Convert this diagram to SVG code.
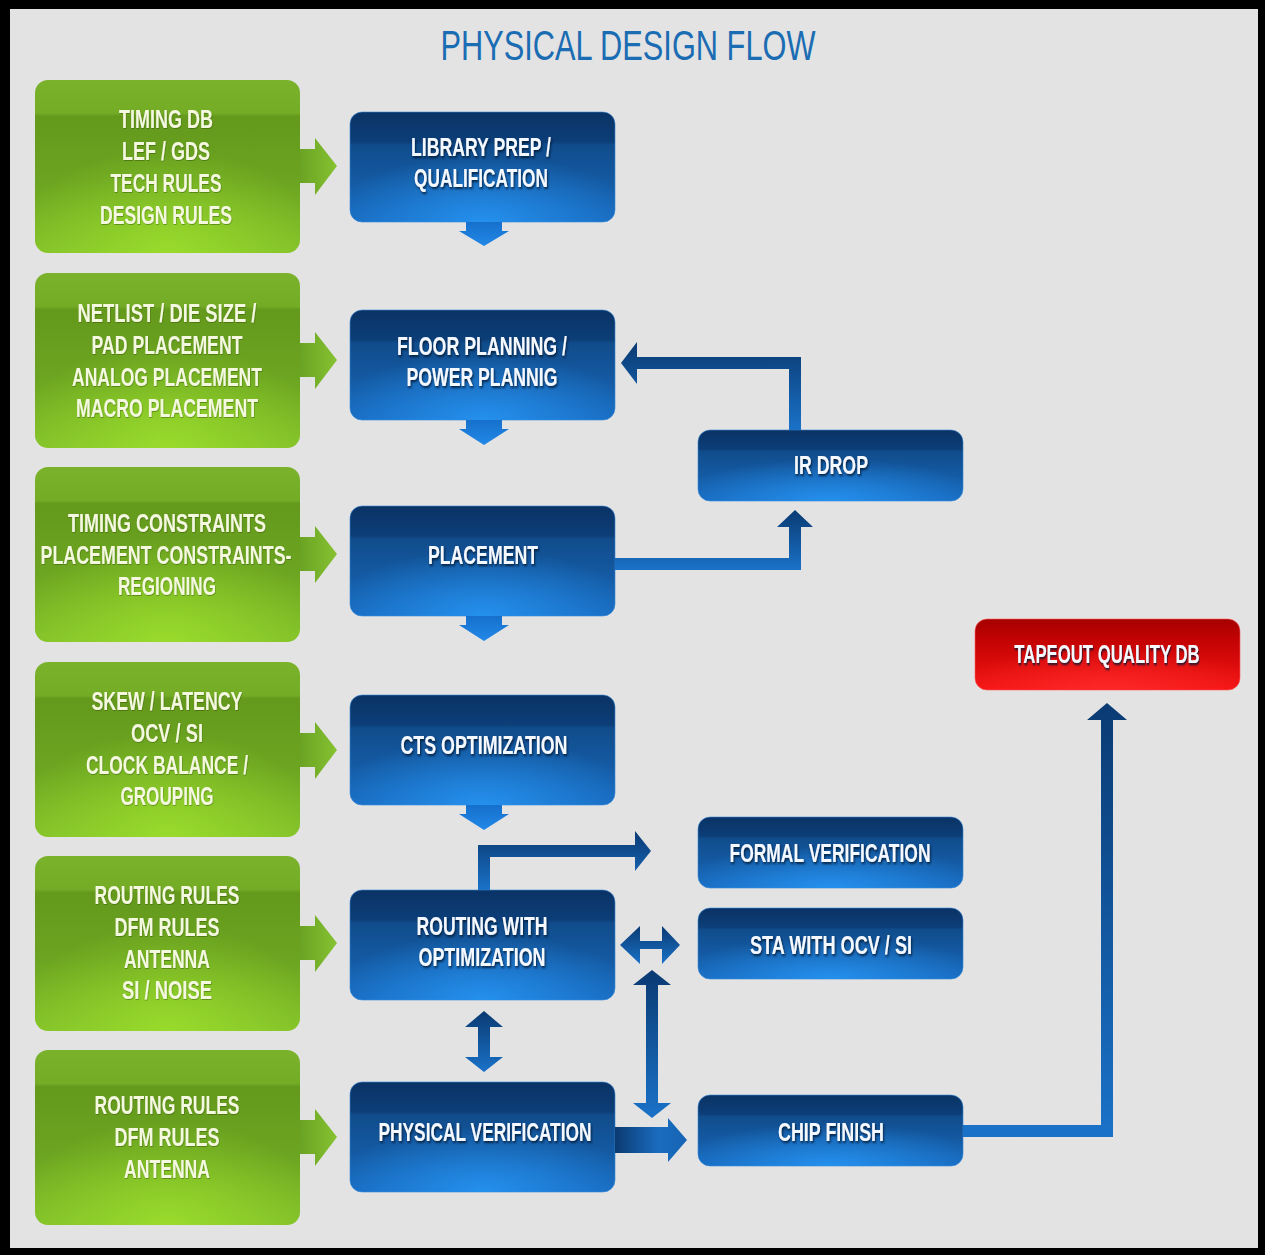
<svg xmlns="http://www.w3.org/2000/svg" width="1265" height="1255" viewBox="0 0 1265 1255">
<defs>
<linearGradient id="gGreen" x1="0" y1="0" x2="0" y2="1">
<stop offset="0" stop-color="#7ab22b"/>
<stop offset="0.19" stop-color="#74ac26"/>
<stop offset="0.21" stop-color="#64991c"/>
<stop offset="0.6" stop-color="#6ca521"/>
<stop offset="1" stop-color="#82c02a"/>
</linearGradient>
<radialGradient id="gGreenGlow" cx="0.5" cy="1" r="0.6" fx="0.5" fy="1">
<stop offset="0" stop-color="#9fe22c" stop-opacity="0.8"/>
<stop offset="1" stop-color="#9fe22c" stop-opacity="0"/>
</radialGradient>
<linearGradient id="gGArrow" x1="0" y1="0" x2="1" y2="0">
<stop offset="0" stop-color="#6aa324"/>
<stop offset="1" stop-color="#86c232"/>
</linearGradient>
<linearGradient id="gBlue" x1="0" y1="0" x2="0" y2="1">
<stop offset="0" stop-color="#0a3365"/>
<stop offset="0.27" stop-color="#0c3e78"/>
<stop offset="0.3" stop-color="#104c8b"/>
<stop offset="1" stop-color="#1869bd"/>
</linearGradient>
<radialGradient id="gBlueGlow" cx="0.5" cy="1" r="0.6" fx="0.5" fy="1">
<stop offset="0" stop-color="#2592f0" stop-opacity="0.95"/>
<stop offset="1" stop-color="#2592f0" stop-opacity="0"/>
</radialGradient>
<linearGradient id="gRed" x1="0" y1="0" x2="0" y2="1">
<stop offset="0" stop-color="#a50000"/>
<stop offset="0.3" stop-color="#c40303"/>
<stop offset="1" stop-color="#f41414"/>
</linearGradient>
<radialGradient id="gRedGlow" cx="0.5" cy="1" r="0.6" fx="0.5" fy="1">
<stop offset="0" stop-color="#ff2a2a" stop-opacity="0.9"/>
<stop offset="1" stop-color="#ff2a2a" stop-opacity="0"/>
</radialGradient>
<linearGradient id="gConn" x1="0" y1="0" x2="0" y2="1">
<stop offset="0" stop-color="#0a3a72"/>
<stop offset="1" stop-color="#1a72c8"/>
</linearGradient>
<linearGradient id="gConnH" x1="0" y1="0" x2="1" y2="0">
<stop offset="0" stop-color="#0b3a70"/>
<stop offset="0.6" stop-color="#1a6cc0"/>
<stop offset="1" stop-color="#1664b4"/>
</linearGradient>
<linearGradient id="gDown" x1="0" y1="0" x2="0" y2="1">
<stop offset="0" stop-color="#1670cc"/>
<stop offset="1" stop-color="#2288e8"/>
</linearGradient>
<filter id="tsh" x="-20%" y="-60%" width="140%" height="220%">
<feDropShadow dx="1" dy="2" stdDeviation="0.8" flood-color="#001530" flood-opacity="0.85"/>
</filter>
<filter id="tshG" x="-20%" y="-60%" width="140%" height="220%">
<feDropShadow dx="0.5" dy="1" stdDeviation="0.6" flood-color="#2d4a08" flood-opacity="0.45"/>
</filter>
</defs>
<style>
.title{font-family:"Liberation Sans",Arial,sans-serif;font-size:42px;fill:#1a6cb3;text-anchor:middle}
.t{font-family:"Liberation Sans",Arial,sans-serif;font-size:25px;font-weight:bold;text-anchor:middle}
.tg{fill:#f3f8df;filter:url(#tshG)}
.tb{fill:#f4f8ff;filter:url(#tsh)}
.green{fill:url(#gGreen)}
.gglow{fill:url(#gGreenGlow)}
.blue{fill:url(#gBlue);stroke:#3a8ad6;stroke-width:1;stroke-opacity:0.6}
.bglow{fill:url(#gBlueGlow)}
.garrow{fill:url(#gGArrow)}
.conn{fill:url(#gConn)}
.down{fill:url(#gDown)}
</style>
<rect x="0" y="0" width="1265" height="1255" fill="#000"/>
<rect x="10" y="9" width="1248" height="1239" fill="#e3e3e3"/>
<text class="title" x="628" y="60" textLength="375" lengthAdjust="spacingAndGlyphs">PHYSICAL DESIGN FLOW</text>

<g id="input1">
<rect class="green" x="35" y="80" width="265" height="173" rx="13"/>
<rect class="gglow" x="35" y="80" width="265" height="173" rx="13"/>
<text class="t tg" x="166" y="128" textLength="94" lengthAdjust="spacingAndGlyphs">TIMING DB</text>
<text class="t tg" x="166" y="160" textLength="88" lengthAdjust="spacingAndGlyphs">LEF / GDS</text>
<text class="t tg" x="166" y="192" textLength="111" lengthAdjust="spacingAndGlyphs">TECH RULES</text>
<text class="t tg" x="166" y="224" textLength="132" lengthAdjust="spacingAndGlyphs">DESIGN RULES</text>
</g>
<g id="input2">
<rect class="green" x="35" y="273" width="265" height="175" rx="13"/>
<rect class="gglow" x="35" y="273" width="265" height="175" rx="13"/>
<text class="t tg" x="167" y="322" textLength="179" lengthAdjust="spacingAndGlyphs">NETLIST / DIE SIZE /</text>
<text class="t tg" x="167" y="354" textLength="151" lengthAdjust="spacingAndGlyphs">PAD PLACEMENT</text>
<text class="t tg" x="167" y="386" textLength="190" lengthAdjust="spacingAndGlyphs">ANALOG PLACEMENT</text>
<text class="t tg" x="167" y="417" textLength="182" lengthAdjust="spacingAndGlyphs">MACRO PLACEMENT</text>
</g>
<g id="input3">
<rect class="green" x="35" y="467" width="265" height="175" rx="13"/>
<rect class="gglow" x="35" y="467" width="265" height="175" rx="13"/>
<text class="t tg" x="167" y="532" textLength="198" lengthAdjust="spacingAndGlyphs">TIMING CONSTRAINTS</text>
<text class="t tg" x="166" y="564" textLength="251" lengthAdjust="spacingAndGlyphs">PLACEMENT CONSTRAINTS-</text>
<text class="t tg" x="167" y="595" textLength="98" lengthAdjust="spacingAndGlyphs">REGIONING</text>
</g>
<g id="input4">
<rect class="green" x="35" y="662" width="265" height="175" rx="13"/>
<rect class="gglow" x="35" y="662" width="265" height="175" rx="13"/>
<text class="t tg" x="167" y="710" textLength="151" lengthAdjust="spacingAndGlyphs">SKEW / LATENCY</text>
<text class="t tg" x="167" y="742" textLength="72" lengthAdjust="spacingAndGlyphs">OCV / SI</text>
<text class="t tg" x="167" y="774" textLength="162" lengthAdjust="spacingAndGlyphs">CLOCK BALANCE /</text>
<text class="t tg" x="167" y="805" textLength="93" lengthAdjust="spacingAndGlyphs">GROUPING</text>
</g>
<g id="input5">
<rect class="green" x="35" y="856" width="265" height="175" rx="13"/>
<rect class="gglow" x="35" y="856" width="265" height="175" rx="13"/>
<text class="t tg" x="167" y="904" textLength="145" lengthAdjust="spacingAndGlyphs">ROUTING RULES</text>
<text class="t tg" x="167" y="936" textLength="105" lengthAdjust="spacingAndGlyphs">DFM RULES</text>
<text class="t tg" x="167" y="968" textLength="86" lengthAdjust="spacingAndGlyphs">ANTENNA</text>
<text class="t tg" x="167" y="999" textLength="90" lengthAdjust="spacingAndGlyphs">SI / NOISE</text>
</g>
<g id="input6">
<rect class="green" x="35" y="1050" width="265" height="175" rx="13"/>
<rect class="gglow" x="35" y="1050" width="265" height="175" rx="13"/>
<text class="t tg" x="167" y="1114" textLength="145" lengthAdjust="spacingAndGlyphs">ROUTING RULES</text>
<text class="t tg" x="167" y="1146" textLength="105" lengthAdjust="spacingAndGlyphs">DFM RULES</text>
<text class="t tg" x="167" y="1178" textLength="86" lengthAdjust="spacingAndGlyphs">ANTENNA</text>
</g>

<g id="library-prep">
<rect class="blue" x="350" y="112" width="265" height="110" rx="12"/>
<rect class="bglow" x="350" y="112" width="265" height="110" rx="12"/>
<text class="t tb" x="481" y="156" textLength="140" lengthAdjust="spacingAndGlyphs">LIBRARY PREP /</text>
<text class="t tb" x="481" y="187" textLength="134" lengthAdjust="spacingAndGlyphs">QUALIFICATION</text>
</g>
<g id="floor-planning">
<rect class="blue" x="350" y="310" width="265" height="110" rx="12"/>
<rect class="bglow" x="350" y="310" width="265" height="110" rx="12"/>
<text class="t tb" x="482" y="355" textLength="170" lengthAdjust="spacingAndGlyphs">FLOOR PLANNING /</text>
<text class="t tb" x="482" y="386" textLength="151" lengthAdjust="spacingAndGlyphs">POWER PLANNIG</text>
</g>
<g id="placement">
<rect class="blue" x="350" y="506" width="265" height="110" rx="12"/>
<rect class="bglow" x="350" y="506" width="265" height="110" rx="12"/>
<text class="t tb" x="483" y="564" textLength="110" lengthAdjust="spacingAndGlyphs">PLACEMENT</text>
</g>
<g id="cts">
<rect class="blue" x="350" y="695" width="265" height="110" rx="12"/>
<rect class="bglow" x="350" y="695" width="265" height="110" rx="12"/>
<text class="t tb" x="484" y="754" textLength="167" lengthAdjust="spacingAndGlyphs">CTS OPTIMIZATION</text>
</g>
<g id="routing">
<rect class="blue" x="350" y="890" width="265" height="110" rx="12"/>
<rect class="bglow" x="350" y="890" width="265" height="110" rx="12"/>
<text class="t tb" x="482" y="935" textLength="131" lengthAdjust="spacingAndGlyphs">ROUTING WITH</text>
<text class="t tb" x="482" y="966" textLength="127" lengthAdjust="spacingAndGlyphs">OPTIMIZATION</text>
</g>
<g id="physical-verification">
<rect class="blue" x="350" y="1082" width="265" height="110" rx="12"/>
<rect class="bglow" x="350" y="1082" width="265" height="110" rx="12"/>
<text class="t tb" x="485" y="1141" textLength="213" lengthAdjust="spacingAndGlyphs">PHYSICAL VERIFICATION</text>
</g>
<g id="ir-drop">
<rect class="blue" x="698" y="430" width="265" height="71" rx="12"/>
<rect class="bglow" x="698" y="430" width="265" height="71" rx="12"/>
<text class="t tb" x="831" y="474" textLength="74" lengthAdjust="spacingAndGlyphs">IR DROP</text>
</g>
<g id="formal-verification">
<rect class="blue" x="698" y="817" width="265" height="71" rx="12"/>
<rect class="bglow" x="698" y="817" width="265" height="71" rx="12"/>
<text class="t tb" x="830" y="862" textLength="201" lengthAdjust="spacingAndGlyphs">FORMAL VERIFICATION</text>
</g>
<g id="sta">
<rect class="blue" x="698" y="908" width="265" height="71" rx="12"/>
<rect class="bglow" x="698" y="908" width="265" height="71" rx="12"/>
<text class="t tb" x="831" y="954" textLength="162" lengthAdjust="spacingAndGlyphs">STA WITH OCV / SI</text>
</g>
<g id="chip-finish">
<rect class="blue" x="698" y="1095" width="265" height="71" rx="12"/>
<rect class="bglow" x="698" y="1095" width="265" height="71" rx="12"/>
<text class="t tb" x="831" y="1141" textLength="106" lengthAdjust="spacingAndGlyphs">CHIP FINISH</text>
</g>
<g id="tapeout">
<rect x="975" y="619" width="265" height="71" rx="12" fill="url(#gRed)" stroke="#ff6060" stroke-width="1" stroke-opacity="0.6"/>
<rect x="975" y="619" width="265" height="71" rx="12" fill="url(#gRedGlow)"/>
<text class="t tb" transform="translate(1107,663) scale(0.67,1)" x="0" y="0">TAPEOUT QUALITY DB</text>
</g>

<g id="connectors">
<path class="garrow" d="M300,149 H315 V138 L337,166 L315,195 V183 H300 Z"/>
<path class="garrow" d="M300,343 H315 V332 L337,360 L315,389 V377 H300 Z"/>
<path class="garrow" d="M300,537 H315 V526 L337,554 L315,583 V571 H300 Z"/>
<path class="garrow" d="M300,733 H315 V722 L337,750 L315,779 V767 H300 Z"/>
<path class="garrow" d="M300,926 H315 V915 L337,943 L315,972 V960 H300 Z"/>
<path class="garrow" d="M300,1120 H315 V1109 L337,1137 L315,1166 V1154 H300 Z"/>

<path class="down" d="M466,222 H502 V231 H509 L484,246 L459,231 H466 Z"/>
<path class="down" d="M466,420 H502 V429 H509 L484,445 L459,429 H466 Z"/>
<path class="down" d="M466,616 H502 V625 H509 L484,641 L459,625 H466 Z"/>
<path class="down" d="M466,805 H502 V814 H509 L484,830 L459,814 H466 Z"/>

<path class="conn" d="M789,430 V369 H637 V384 L621,363 L637,342 V357 H801 V430 Z"/>
<path class="conn" d="M615,558 H789 V527 H777 L795,510 L813,527 H801 V570 H615 Z"/>
<path class="conn" d="M478,890 V845 H635 V831 L651,851 L635,871 V857 H490 V890 Z"/>
<path class="conn" d="M620,945 L640,926 V941 H662 V926 L680,945 L662,964 V949 H640 V964 Z"/>
<path class="conn" d="M652,970 L671,985 H658 V1103 H671 L652,1118 L633,1103 H646 V985 H633 Z"/>
<path class="conn" d="M484,1011 L503,1027 H490 V1057 H503 L484,1072 L465,1057 H478 V1027 H465 Z"/>
<path fill="url(#gConnH)" d="M615,1127 H668 V1118 L687,1140 L668,1162 V1153 H615 Z"/>
<path class="conn" d="M963,1125 H1101 V720 H1087 L1107,703 L1127,720 H1113 V1137 H963 Z"/>
</g>
</svg>
